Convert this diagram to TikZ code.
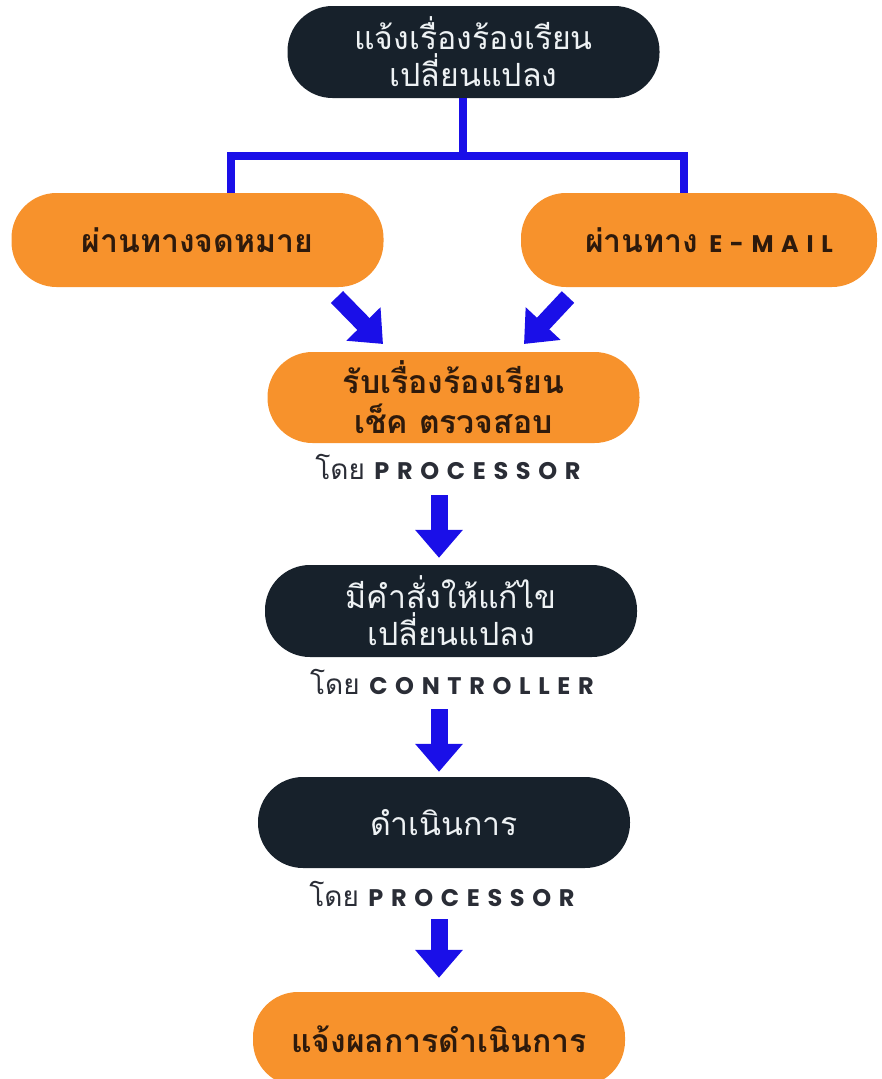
\documentclass[tikz,border=0pt]{standalone}
\usepackage{fontspec}
\setmainfont{Liberation Sans}
\newfontfamily\thaifont[Script=Thai]{Loma}
\newfontfamily\latinfont[LetterSpace=32]{Poppins}
\usetikzlibrary{arrows.meta,calc}

\definecolor{boxdark}{HTML}{17212B}
\definecolor{boxtext}{HTML}{EEF2F4}
\definecolor{boxorange}{HTML}{F7922C}
\definecolor{boxbrown}{HTML}{2E1A0C}
\definecolor{labeltext}{HTML}{2A2D36}
\definecolor{flowblue}{HTML}{1A0FE8}

\tikzset{
	darkbox/.style={rectangle, rounded corners=45pt, fill=boxdark, text=boxtext,
		minimum width=372pt, minimum height=92pt, align=center, inner sep=0pt,
		font=\thaifont\fontsize{32}{37}\selectfont},
	orangebox/.style={rectangle, rounded corners=45pt, fill=boxorange, text=boxbrown,
		minimum width=372pt, minimum height=92pt, align=center, inner sep=0pt,
		font=\thaifont\bfseries\fontsize{32}{40}\selectfont},
	bylabel/.style={text=labeltext, inner sep=0pt, minimum height=44pt,
		font=\thaifont\fontsize{28}{30}\selectfont},
	flowarrow/.style={draw=flowblue, line width=17pt,
		-{Triangle[width=46pt,length=28pt]}},
	treeline/.style={draw=flowblue, line width=8pt, line join=miter},
}
\newcommand{\caps}[1]{{\latinfont\bfseries\fontsize{24}{28}\selectfont #1}}

\begin{document}
\begin{tikzpicture}[x=1pt,y=-1pt]

% frame %{{{2

	\useasboundingbox (0,0) rectangle (881,1079);

% coordinate %{{{2

	\coordinate (fork) at (463,156);
	\coordinate (forkL) at (231,156);
	\coordinate (forkR) at (684,156);
	\coordinate (letterout) at (337,297);
	\coordinate (emailout) at (568,297);
	\coordinate (receiveinL) at (383,344);
	\coordinate (receiveinR) at (524,344);

% boxes %{{{2

	\node[darkbox] (report) at (473.5,52) {แจ้งเรื่องร้องเรียน\\เปลี่ยนแปลง};
	\node[orangebox, minimum height=94pt] (letter) at (197.5,240) {ผ่านทางจดหมาย};
	\node[orangebox, minimum width=356pt, minimum height=94pt] (email) at (699,240)
		{\hspace*{20pt}ผ่านทาง \caps{E-MAIL}};
	\node[orangebox, minimum height=91pt] (receive) at (453.5,397.5)
		{รับเรื่องร้องเรียน\\เช็ค ตรวจสอบ};
	\node[darkbox] (order) at (451,611) {มีคำสั่งให้แก้ไข\\เปลี่ยนแปลง};
	\node[darkbox, minimum height=91pt] (act) at (444,822.5) {ดำเนินการ};
	\node[orangebox, minimum height=94pt] (notify) at (439,1039) {แจ้งผลการดำเนินการ};

% role labels %{{{2

	\node[bylabel] (byproc) at (448,467) {โดย \caps{PROCESSOR}};
	\node[bylabel] (byctrl) at (452,682) {โดย \caps{CONTROLLER}};
	\node[bylabel] (byproc2) at (442,894) {โดย \caps{PROCESSOR}};

% branch lines %{{{2

	\draw[treeline] (report.south -| fork) -- (fork);
	\draw[treeline] (letter.north -| forkL) -- (forkL) -- (forkR) -- (email.north -| forkR);

% arrows %{{{2

	\draw[flowarrow] (letterout) -- (receiveinL);
	\draw[flowarrow] (emailout) -- (receiveinR);
	\draw[flowarrow, shorten <=6pt, shorten >=7pt] (byproc.south -| 439,0) -- (order.north -| 439,0);
	\draw[flowarrow, shorten <=5pt, shorten >=5pt] (byctrl.south -| 439,0) -- (act.north -| 439,0);
	\draw[flowarrow, shorten <=3pt, shorten >=14pt] (byproc2.south -| 439,0) -- (notify.north -| 439,0);

\end{tikzpicture}
\end{document}
